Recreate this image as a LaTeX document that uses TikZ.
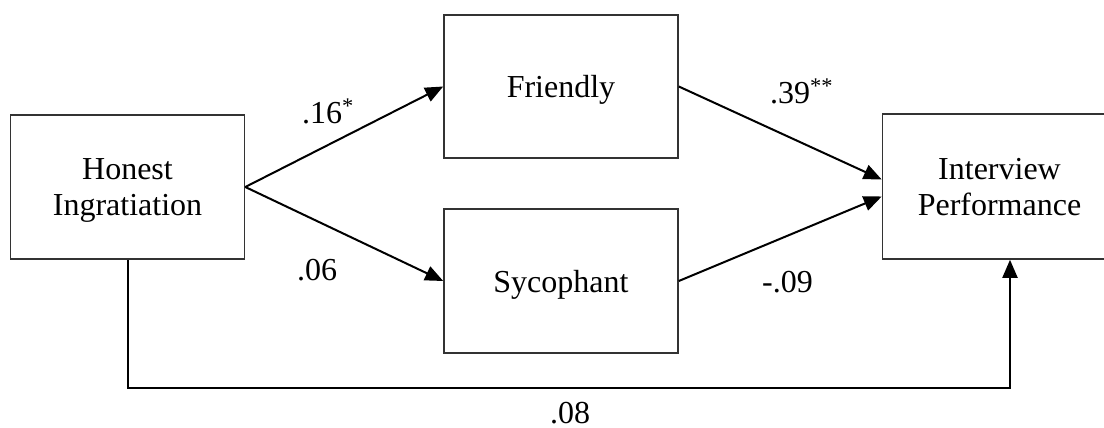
\documentclass[tikz,border=0pt]{standalone}
\usepackage{fontspec}
\setmainfont{Liberation Serif}
\usetikzlibrary{arrows.meta}
\begin{document}
\begin{tikzpicture}[x=1pt,y=-1pt,
  varbox/.style={draw=black!80,line width=1.6pt,minimum width=234pt,inner sep=0pt,
    align=center,text depth=0pt,font=\fontsize{32}{36}\selectfont},
  path/.style={line width=2pt,-{Triangle[length=18pt,width=15pt]}},
  coef/.style={anchor=base west,inner sep=0pt,font=\fontsize{32}{36}\selectfont}]
\useasboundingbox (0,0) rectangle (1104,428);
\begin{scope}
\clip (0,0) rectangle (1104,428);
\node[varbox,minimum height=144pt] (hon) at (127.5,187) {Honest\\Ingratiation};
\node[varbox,minimum height=143pt] (fri) at (561,86.5) {Friendly};
\node[varbox,minimum height=144pt] (syc) at (561,281) {Sycophant};
\node[varbox,minimum height=145pt] (int) at (999.5,186.5) {Interview\\Performance};
\end{scope}
% elbow connector under the boxes
\coordinate (bl) at (128,388);
\coordinate (br) at (1010,388);
\draw[path] (hon.east) -- (fri.west);
\draw[path] (hon.east) -- (syc.west);
\draw[path] (fri.east) -- ([yshift=7pt]int.west);
\draw[path] (syc.east) -- ([yshift=-10pt]int.west);
\draw[path] (hon.south -| bl) -- (bl) -- (br) -- (int.south -| br);
\node[coef] (c1) at (302,123) {.16\textsuperscript{*}};
\node[coef] (c2) at (297,280) {.06};
\node[coef] (c3) at (770,103) {.39\textsuperscript{**}};
\node[coef] (c4) at (762,292) {-.09};
\node[coef] (c5) at (550,423) {.08};
\end{tikzpicture}
\end{document}
